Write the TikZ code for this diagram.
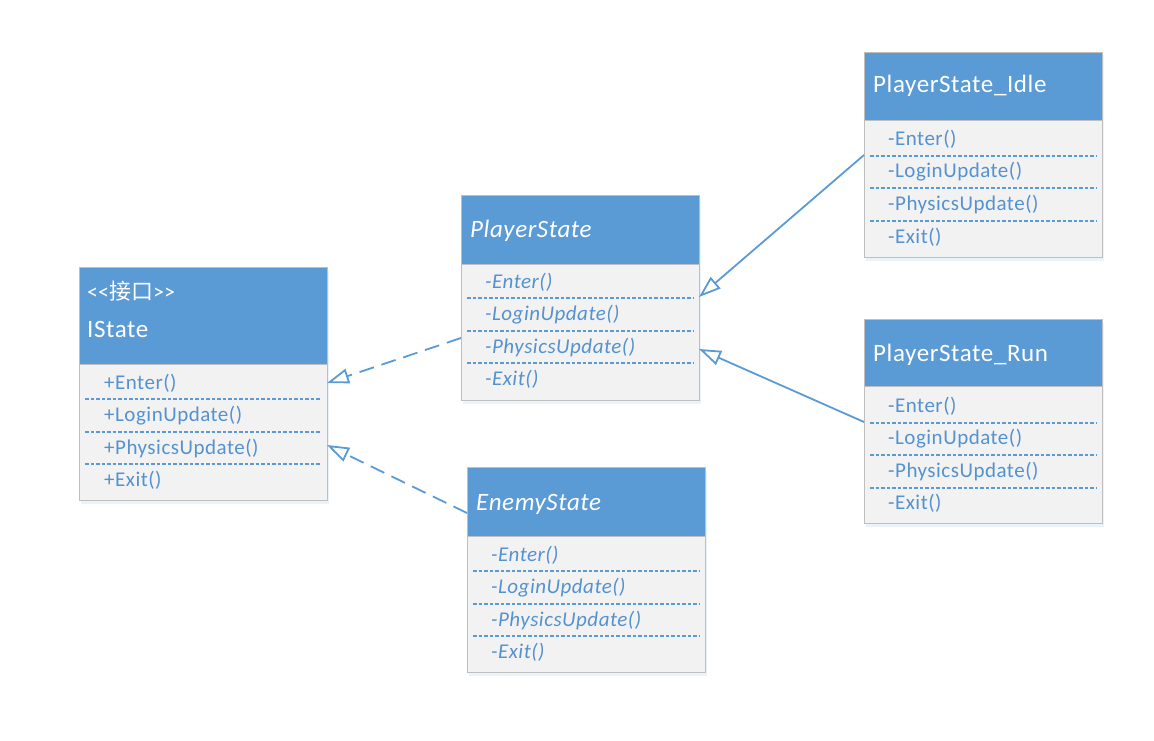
\documentclass[tikz,border=0pt]{standalone}
\usepackage{fontspec}
\setmainfont{Carlito}[LetterSpace=2.4]
\newfontfamily\cjk{Noto Sans CJK SC}
\usetikzlibrary{arrows.meta,shadows}
\definecolor{hblue}{HTML}{5B9BD5}
\definecolor{tblue}{HTML}{5592D0}
\definecolor{bodyfill}{HTML}{F2F2F2}
\definecolor{bordergray}{HTML}{BFBFBF}
\tikzset{
  classbody/.style={draw=bordergray, line width=1pt, fill=bodyfill, anchor=north west, inner sep=0pt,
    drop shadow={shadow xshift=1pt, shadow yshift=-3pt, opacity=0.25, fill=hblue!50}},
  classhead/.style={draw=bordergray, line width=1pt, fill=hblue, anchor=north west, inner sep=0pt},
  ctitle/.style={anchor=base west, inner sep=0pt, text=white, font=\fontsize{25}{27}\selectfont},
  crow/.style={anchor=base west, inner sep=0pt, text=tblue, font=\fontsize{21}{23}\selectfont},
  divline/.style={draw=hblue, line width=1.4pt, dash pattern=on 3.5pt off 2pt},
  realize/.style={draw=hblue, line width=1.8pt, dash pattern=on 15pt off 8pt,
    -{Triangle[open, fill=white, length=22pt, width=15pt, line width=1.8pt]}},
  inherit/.style={draw=hblue, line width=1.8pt,
    -{Triangle[open, fill=white, length=22pt, width=15pt, line width=1.8pt]}},
}
\begin{document}
\begin{tikzpicture}[x=1pt, y=-1pt]
\useasboundingbox (0,0) rectangle (1154,741);

% ---------- IState ----------
\node[classbody, minimum width=248pt, minimum height=233pt] (istate) at (79,267) {};
\node[classhead, minimum width=248pt, minimum height=97pt] (istate-h) at (79,267) {};
\node[ctitle, font=\fontsize{22}{24}\selectfont] (istate-st) at (87,299) {<\kern0pt<{\cjk 接口}>\kern0pt>};
\node[ctitle] (istate-t) at (87,337) {IState};
\node[crow] (istate-r1) at (104,389) {+Enter()};
\node[crow] (istate-r2) at (104,421) {+LoginUpdate()};
\node[crow] (istate-r3) at (104,454) {+PhysicsUpdate()};
\node[crow] (istate-r4) at (104,486) {+Exit()};
\draw[divline] (85,399) -- (320,399);
\draw[divline] (85,432) -- (320,432);
\draw[divline] (85,464) -- (320,464);

% ---------- PlayerState ----------
\node[classbody, minimum width=238pt, minimum height=205pt] (ps) at (461,195) {};
\node[classhead, minimum width=238pt, minimum height=69pt] (ps-h) at (461,195) {};
\node[ctitle, font=\fontsize{25}{27}\selectfont\itshape] (ps-t) at (470,237) {PlayerState};
\node[crow, font=\fontsize{21}{23}\selectfont\itshape] (ps-r1) at (485,288) {-Enter()};
\node[crow, font=\fontsize{21}{23}\selectfont\itshape] (ps-r2) at (485,320) {-LoginUpdate()};
\node[crow, font=\fontsize{21}{23}\selectfont\itshape] (ps-r3) at (485,353) {-PhysicsUpdate()};
\node[crow, font=\fontsize{21}{23}\selectfont\itshape] (ps-r4) at (485,385) {-Exit()};
\draw[divline] (467,298) -- (693,298);
\draw[divline] (467,331) -- (693,331);
\draw[divline] (467,363) -- (693,363);

% ---------- EnemyState ----------
\node[classbody, minimum width=238pt, minimum height=205pt] (es) at (467,467) {};
\node[classhead, minimum width=238pt, minimum height=69pt] (es-h) at (467,467) {};
\node[ctitle, font=\fontsize{25}{27}\selectfont\itshape] (es-t) at (476,510) {EnemyState};
\node[crow, font=\fontsize{21}{23}\selectfont\itshape] (es-r1) at (491,561) {-Enter()};
\node[crow, font=\fontsize{21}{23}\selectfont\itshape] (es-r2) at (491,593) {-LoginUpdate()};
\node[crow, font=\fontsize{21}{23}\selectfont\itshape] (es-r3) at (491,626) {-PhysicsUpdate()};
\node[crow, font=\fontsize{21}{23}\selectfont\itshape] (es-r4) at (491,658) {-Exit()};
\draw[divline] (473,571) -- (699,571);
\draw[divline] (473,604) -- (699,604);
\draw[divline] (473,636) -- (699,636);

% ---------- PlayerState_Idle ----------
\node[classbody, minimum width=238pt, minimum height=205pt] (idle) at (864,52) {};
\node[classhead, minimum width=238pt, minimum height=68pt] (idle-h) at (864,52) {};
\node[ctitle] (idle-t) at (873,93) {PlayerState\_Idle};
\node[crow] (idle-r1) at (888,146) {-Enter()};
\node[crow] (idle-r2) at (888,178) {-LoginUpdate()};
\node[crow] (idle-r3) at (888,210) {-PhysicsUpdate()};
\node[crow] (idle-r4) at (888,243) {-Exit()};
\draw[divline] (870,156) -- (1097,156);
\draw[divline] (870,188) -- (1097,188);
\draw[divline] (870,221) -- (1097,221);

% ---------- PlayerState_Run ----------
\node[classbody, minimum width=238pt, minimum height=204pt] (run) at (864,319) {};
\node[classhead, minimum width=238pt, minimum height=67pt] (run-h) at (864,319) {};
\node[ctitle] (run-t) at (873,361) {PlayerState\_Run};
\node[crow] (run-r1) at (888,412) {-Enter()};
\node[crow] (run-r2) at (888,444) {-LoginUpdate()};
\node[crow] (run-r3) at (888,477) {-PhysicsUpdate()};
\node[crow] (run-r4) at (888,509) {-Exit()};
\draw[divline] (870,423) -- (1097,423);
\draw[divline] (870,455) -- (1097,455);
\draw[divline] (870,488) -- (1097,488);

% ---------- connector end points ----------
\coordinate (ps-out) at (461,338);
\coordinate (es-out) at (467,513);
\coordinate (is-in1) at (327,383);
\coordinate (is-in2) at (327,445);
\coordinate (idle-out) at (864,155);
\coordinate (run-out) at (864,422);
\coordinate (ps-in1) at (699,297);
\coordinate (ps-in2) at (699,349);

\draw[realize] (ps-out) -- (is-in1);
\draw[realize] (es-out) -- (is-in2);
\draw[inherit] (idle-out) -- (ps-in1);
\draw[inherit] (run-out) -- (ps-in2);
\end{tikzpicture}
\end{document}
